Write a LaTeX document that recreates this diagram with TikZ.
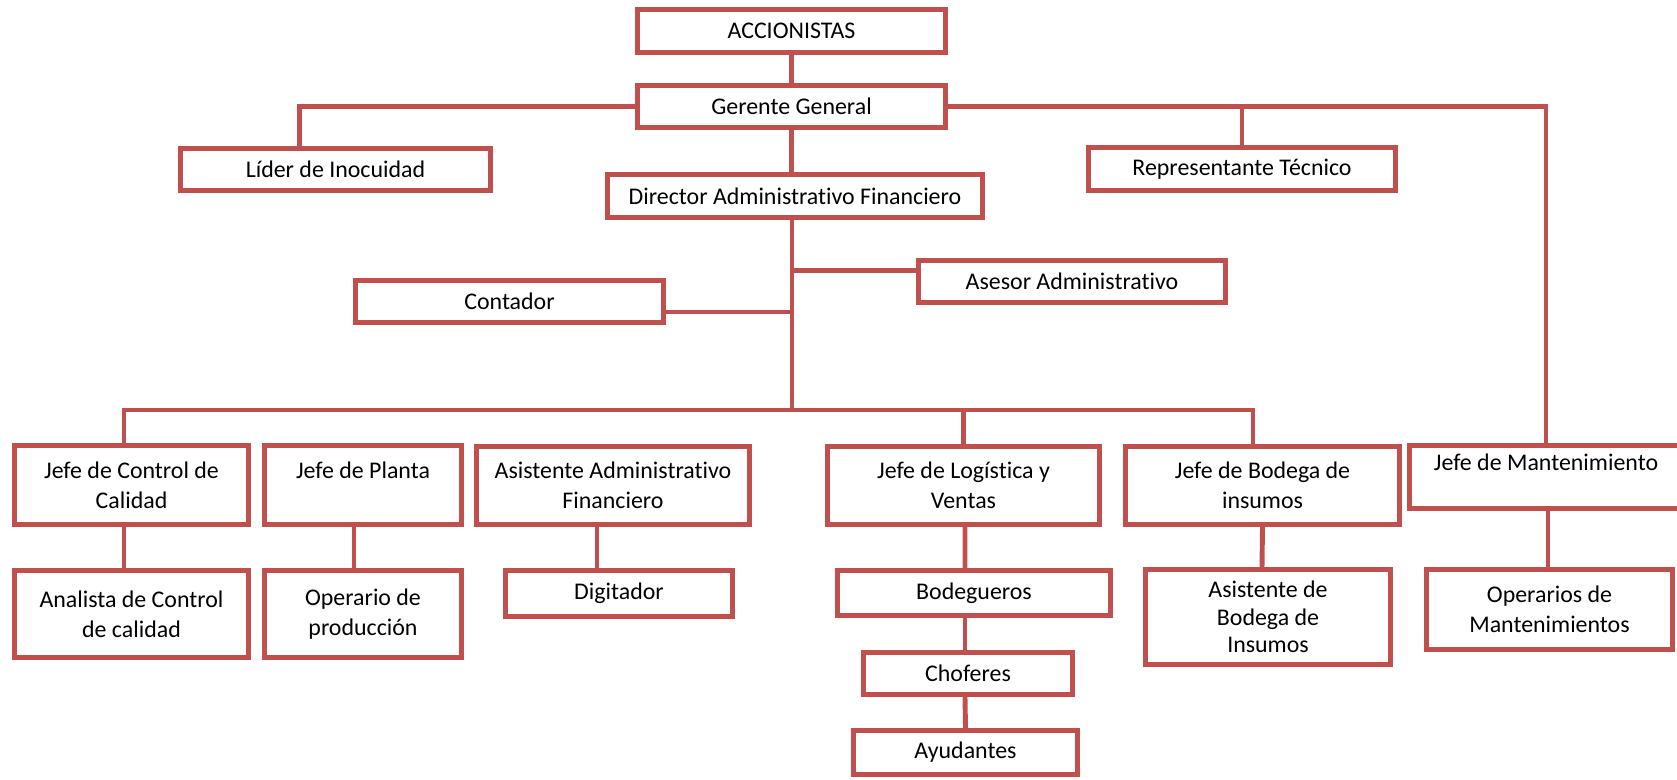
\documentclass[tikz,border=0pt]{standalone}
\usepackage{fontspec}
\setmainfont{Carlito}[Ligatures=CommonOff]
\usetikzlibrary{calc}

\definecolor{cargo}{HTML}{C0504D}

\begin{document}
\begin{tikzpicture}[
      x=0.02cm, y=-0.02cm,
      every node/.style={font=\fontsize{13.6}{17}\selectfont},
      puesto/.style={rectangle, draw=cargo, line width=2.8pt, fill=white, align=center, inner sep=0pt},
      dims/.style 2 args={minimum width=#1*0.02cm, minimum height=#2*0.02cm},
      enlace/.style={draw=cargo, line width=2.8pt}
      ]

      \useasboundingbox (0,0) rectangle (1677,779);

      %top levels
      \node[puesto, dims={308}{43}] (acc) at (791.5,31) {ACCIONISTAS};
      \node[puesto, dims={308}{42}] (gg) at (791.5,106.5) {Gerente General};
      \node[puesto, dims={310}{42}] (lider) at (335.5,169.5) {Líder de Inocuidad};
      \node[puesto, dims={307}{43}] (rep) at (1242,169) {Representante Técnico};
      \node[puesto, dims={375}{43}] (dir) at (795,196) {Director Administrativo Financiero};
      \node[puesto, dims={307}{42}] (asesor) at (1072,281.5) {Asesor Administrativo};
      \node[puesto, dims={308}{42}] (cont) at (509.5,301.5) {Contador};

      %jefes
      \node[puesto, dims={234}{79}] (jcc) at (131.5,485) {Jefe de Control de\\Calidad};
      \node[puesto, dims={197}{79}] (jpl) at (363,485) {Jefe de Planta\\~};
      \node[puesto, dims={273}{78}] (aaf) at (613,485.5) {Asistente Administrativo\\Financiero};
      \node[puesto, dims={272}{78}] (jlv) at (963.5,485.5) {Jefe de Logística y\\Ventas};
      \node[puesto, dims={274}{78}] (jbi) at (1262.5,485.5) {Jefe de Bodega de\\insumos};
      \node[puesto, dims={273}{63}] (jman) at (1546,477) {Jefe de Mantenimiento\\~};

      %personal
      \node[puesto, dims={234}{87}] (acl) at (131.5,614) {Analista de Control\\de calidad};
      \node[puesto, dims={197}{87}] (opp) at (363,614) {Operario de\\producción};
      \node[puesto, dims={227}{46}] (dig) at (619,593.5) {Digitador};
      \node[puesto, dims={273}{45}] (bod) at (974,593) {Bodegueros};
      \node[puesto, dims={209}{42}] (cho) at (968,673.5) {Choferes};
      \node[puesto, dims={224}{44}] (ayu) at (965.5,752.5) {Ayudantes};
      \node[puesto, dims={245}{95}, font=\fontsize{13.6}{15.6}\selectfont] (abi) at (1268,617) {Asistente de\\Bodega de\\Insumos};
      \node[puesto, dims={246}{80}] (opm) at (1549.5,609.5) {Operarios de\\Mantenimientos};

      \coordinate (bus) at (792,410);

      %upper edges
      \path[enlace] (acc.south) -- (gg.north);
      \path[enlace] (gg.west) -| ($(lider.north)+(-36,0)$);
      \path[enlace] (gg.east) -| (jman.north);
      \path[enlace] (rep.north) -- (rep.north |- gg.east);
      \path[enlace] (gg.south) -- (gg.south |- dir.north);
      \path[enlace] (bus |- dir.south) -- (bus);
      \path[enlace] ($(asesor.west)+(0,-11)$) -- (bus |- {$(asesor.west)+(0,-11)$});
      \path[enlace] ($(cont.east)+(0,10.5)$) -- (bus |- {$(cont.east)+(0,10.5)$});

      %bus to jefes
      \path[enlace] ($(jcc.north)+(-7.5,0)$) |- (bus) -| ($(jbi.north)+(-9.5,0)$);
      \path[enlace] ($(jpl.north)+(-9,0)$) -- ($(jpl.north)+(-9,0)$ |- bus);
      \path[enlace] ($(aaf.north)+(-17,0)$) -- ($(aaf.north)+(-17,0)$ |- bus);
      \path[enlace] (jlv.north) -- (jlv.north |- bus);

      %jefes to personal
      \path[enlace] ($(jcc.south)+(-7.5,0)$) -- ($(acl.north)+(-7.5,0)$);
      \path[enlace] ($(jpl.south)+(-9,0)$) -- ($(opp.north)+(-9,0)$);
      \path[enlace] ($(aaf.south)+(-16,0)$) -- ($(dig.north)+(-22,0)$);
      \path[enlace] ($(jlv.south)+(1.5,0)$) -- ($(bod.north)+(-9,0)$);
      \path[enlace] ($(bod.south)+(-9,0)$) -- ($(cho.north)+(-3,0)$);
      \path[enlace] ($(cho.south)+(-3,0)$) -- (ayu.north);
      \path[enlace] (jbi.south) -- ($(abi.north)+(-6,0)$);
      \path[enlace] ($(jman.south)+(2,0)$) -- ($(opm.north)+(-1.5,0)$);
\end{tikzpicture}
\end{document}
